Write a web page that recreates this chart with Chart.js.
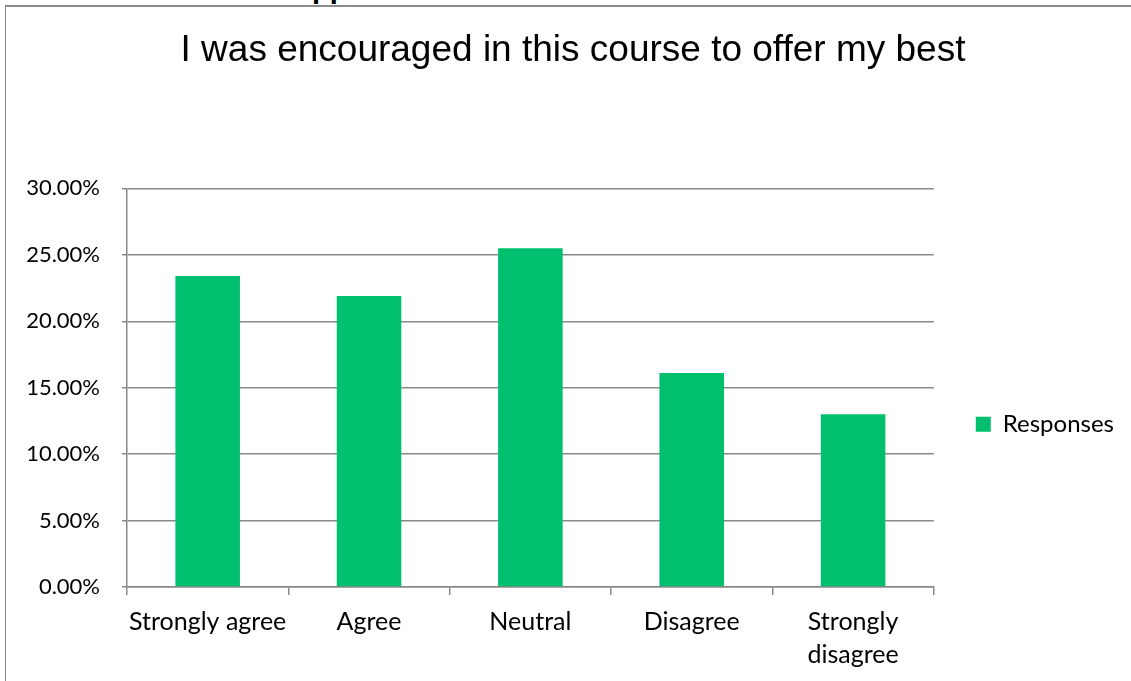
<!DOCTYPE html>
<html>
<head>
<meta charset="utf-8">
<script src="https://cdn.jsdelivr.net/npm/chart.js@4"></script>
<style>
  html, body { margin: 0; padding: 0; background: #fff; overflow: hidden; }
  #frame { position: absolute; left: 5px; top: 5px; width: 1200px; height: 700px;
           border-top: 2px solid #8a8a8a; border-left: 1.5px solid #8a8a8a; }
  #frag { position: absolute; left: 312px; top: -28px; font: bold 29px "Liberation Sans", Arial, sans-serif; color: #000; }
  #c { position: absolute; left: 0; top: 0; }
</style>
</head>
<body>
<div id="frag">pp</div>
<div id="frame"></div>
<canvas id="c" width="1131" height="681"></canvas>
<script>
const titleText = 'I was encouraged in this course to offer my best';
const categories = ['Strongly agree', 'Agree', 'Neutral', 'Disagree', ['Strongly', 'disagree']];
const seriesName = 'Responses';
const responses = [23.4, 21.9, 25.5, 16.1, 13.0];
const yTicks = { min: 0, max: 30, step: 5 };

const gridColor = '#898989';

new Chart(document.getElementById('c'), {
  type: 'bar',
  data: {
    labels: categories,
    datasets: [{
      label: seriesName,
      data: responses,
      backgroundColor: '#00BF6F',
      borderWidth: 0,
      categoryPercentage: 1.0,
      barPercentage: 0.4
    }]
  },
  options: {
    responsive: false,
    animation: false,
    layout: { padding: { left: 22, top: 0, right: 7, bottom: 0 } },
    plugins: {
      tooltip: { enabled: false },
      title: {
        display: true,
        text: titleText,
        color: '#000',
        font: { family: 'Liberation Sans', size: 37, weight: 'normal', lineHeight: 1.2 },
        padding: { top: 29, bottom: 115 }
      },
      legend: {
        display: true,
        position: 'right',
        fullSize: false,
        title: { display: true, text: '', font: { size: 1, lineHeight: 1 }, padding: { top: 72, bottom: 0 } },
        labels: {
          boxWidth: 15,
          boxHeight: 15,
          padding: 42,
          color: '#000',
          font: { family: 'Lato', size: 24 }
        }
      }
    },
    scales: {
      x: {
        offset: true,
        grid: { offset: true, drawOnChartArea: false, drawTicks: true, tickLength: 8, color: gridColor, lineWidth: 1.5 },
        border: { color: gridColor, width: 1.5 },
        ticks: { color: '#000', font: { family: 'Lato', size: 25, lineHeight: 1.3 }, padding: 11, maxRotation: 0, autoSkip: false },
        afterFit: (s) => { s.height = 94; }
      },
      y: {
        min: yTicks.min,
        max: yTicks.max,
        grid: { color: gridColor, lineWidth: 1.5, drawTicks: true, tickLength: 5 },
        border: { color: gridColor, width: 1.5 },
        ticks: {
          stepSize: yTicks.step,
          color: '#000',
          font: { family: 'Lato', size: 22 },
          padding: 22,
          callback: (v) => v.toFixed(2) + '%'
        },
        afterFit: (s) => { s.width = 105; }
      }
    }
  }
});
</script>
</body>
</html>
